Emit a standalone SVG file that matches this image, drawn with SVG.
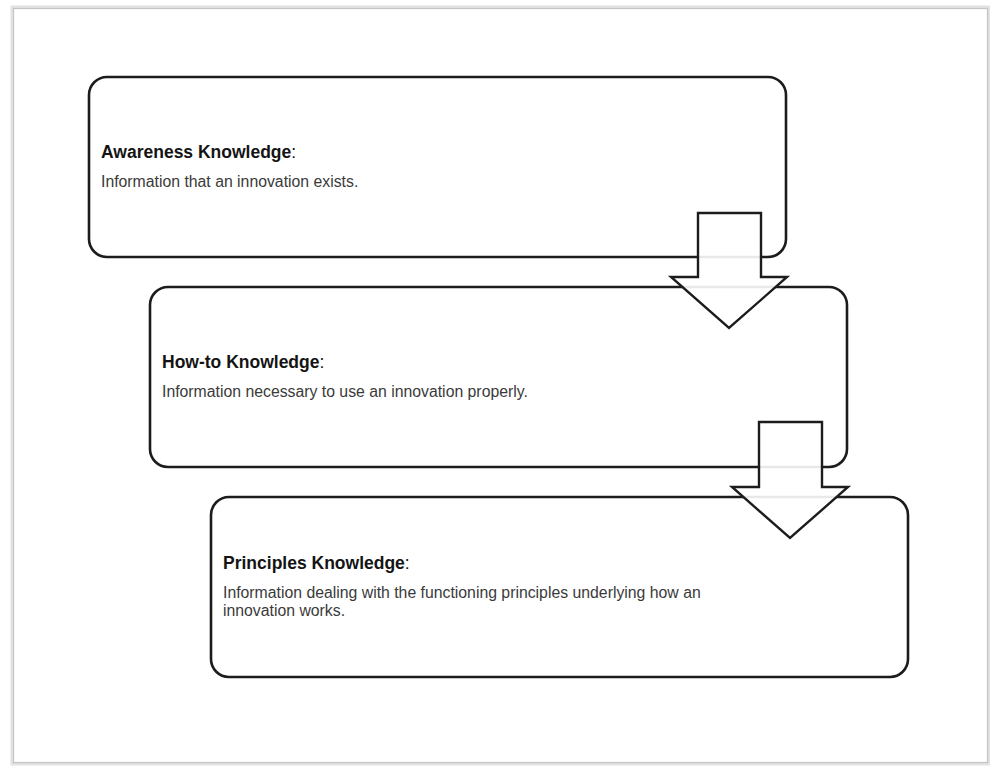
<svg xmlns="http://www.w3.org/2000/svg" width="990" height="766" viewBox="0 0 990 766">
<defs>
<style>
.box{fill:#ffffff;stroke:#1c1c1c;stroke-width:2.6}
.arrow{fill:#ffffff;fill-opacity:0.9;stroke:#1c1c1c;stroke-width:2.4;stroke-linejoin:miter}
.hd{font-family:"Liberation Sans",Arial,sans-serif;font-size:17.5px;font-weight:bold;fill:#141414}
.hd .c{font-weight:normal}
.bd{font-family:"Liberation Sans",Arial,sans-serif;font-size:15.8px;fill:#3a3a3a}
</style>
</defs>
<rect x="0" y="0" width="990" height="766" fill="#ffffff"/>
<g id="page">
<rect x="12" y="7" width="977" height="757" fill="none" stroke="#e2e2e2" stroke-width="3"/>
<rect x="13.5" y="8.5" width="974" height="754" fill="#ffffff" stroke="#c4c4c4" stroke-width="1.2"/>
</g>
<g id="node-awareness">
<rect class="box" x="89" y="77" width="697" height="180" rx="18" ry="18"/>
<text class="hd" x="101" y="158">Awareness Knowledge<tspan class="c">:</tspan></text>
<text class="bd" x="101" y="187">Information that an innovation exists.</text>
</g>
<g id="node-howto">
<rect class="box" x="150" y="287" width="697" height="180" rx="18" ry="18"/>
<text class="hd" x="162" y="368">How-to Knowledge<tspan class="c">:</tspan></text>
<text class="bd" x="162" y="397">Information necessary to use an innovation properly.</text>
</g>
<g id="node-principles">
<rect class="box" x="211" y="497" width="697" height="180" rx="18" ry="18"/>
<text class="hd" x="223" y="569">Principles Knowledge<tspan class="c">:</tspan></text>
<text class="bd" x="223" y="598">Information dealing with the functioning principles underlying how an</text>
<text class="bd" x="223" y="616">innovation works.</text>
</g>
<g id="connectors">
<polygon class="arrow" points="698,213 761,213 761,277 787,277 729,328 671,277 698,277"/>
<polygon class="arrow" points="759,422 822,422 822,487 848,487 790,538 732,487 759,487"/>
</g>
</svg>
